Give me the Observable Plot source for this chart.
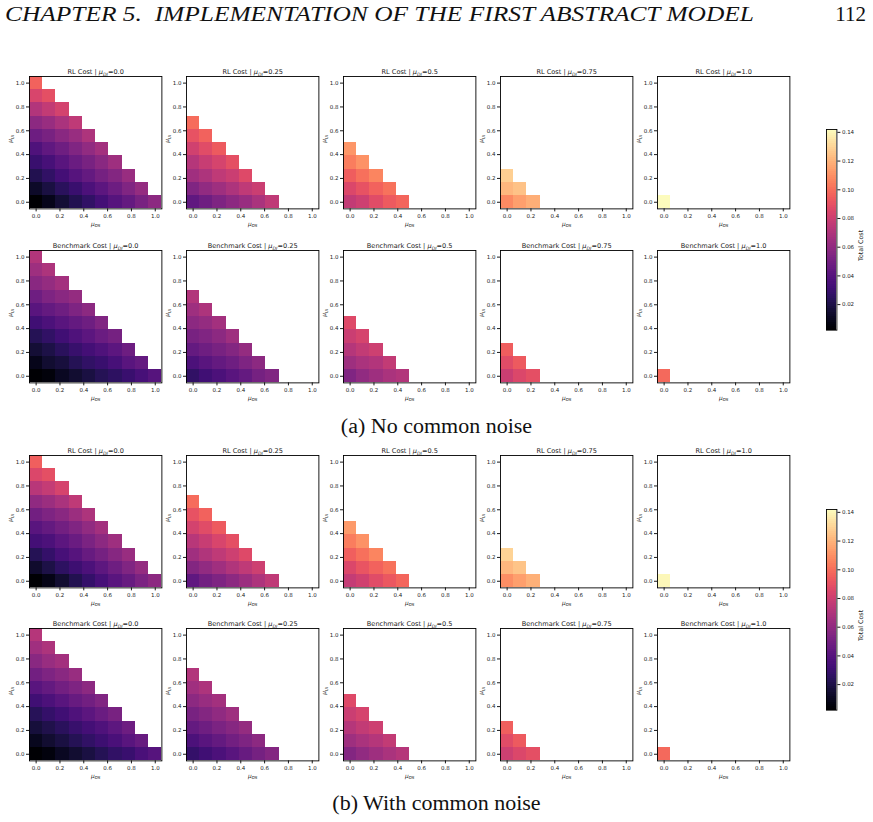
<!DOCTYPE html>
<html>
<head>
<meta charset="utf-8">
<script src="https://cdn.jsdelivr.net/npm/d3@7"></script>
<script src="https://cdn.jsdelivr.net/npm/@observablehq/plot@0.6"></script>
<style>
  body { margin: 0; background: #fff; }
  #page { position: relative; width: 873px; height: 822px; overflow: hidden; background: #fff; }
  .header { position: absolute; top: 2px; font-family: "Liberation Serif", serif; font-size: 21px; color: #111; white-space: nowrap; transform-origin: 0 0; }
  .caption { position: absolute; width: 873px; left: 0; text-align: center; font-family: "Liberation Serif", serif; font-size: 20px; color: #111; transform: scaleX(1.1); }
  .panel { position: absolute; }
</style>
</head>
<body>
<div id="page">
  <div class="header" style="left:5px;font-style:italic;transform:scaleX(1.21);">CHAPTER 5.&nbsp;&nbsp;IMPLEMENTATION OF THE FIRST ABSTRACT MODEL</div>
  <div class="header" style="right:7px;">112</div>
  <div class="caption" style="top:415px;">(a) No common noise</div>
  <div class="caption" style="top:792px;">(b) With common noise</div>
</div>
<script>
// Grid of μDS (columns) and μUI (rows) values at the cell centres
const gridPos = [0.0, 0.111, 0.222, 0.333, 0.444, 0.556, 0.667, 0.778, 0.889, 1.0];
const axisTicks = [0.0, 0.2, 0.4, 0.6, 0.8, 1.0];
const muDILabels = ["0.0", "0.25", "0.5", "0.75", "1.0"];
const colorbarTicks = [0.02, 0.04, 0.06, 0.08, 0.10, 0.12, 0.14];
const costRange = [0.0022, 0.142];

// Total cost per cell; each inner list is one μUI row (bottom row first), one entry per μDS column.
// (a) No common noise — RL policy
const rlA_00 = [
  [0.002, 0.009, 0.016, 0.022, 0.027, 0.033, 0.039, 0.044, 0.051, 0.058],
  [0.013, 0.019, 0.025, 0.030, 0.036, 0.041, 0.047, 0.054, 0.061],
  [0.022, 0.027, 0.033, 0.039, 0.044, 0.050, 0.055, 0.062],
  [0.030, 0.034, 0.040, 0.046, 0.051, 0.057, 0.064],
  [0.037, 0.043, 0.048, 0.054, 0.060, 0.066],
  [0.047, 0.051, 0.057, 0.062, 0.069],
  [0.058, 0.062, 0.068, 0.075],
  [0.071, 0.076, 0.082],
  [0.084, 0.089],
  [0.096]
];
const rlA_25 = [
  [0.043, 0.048, 0.053, 0.058, 0.062, 0.068, 0.075],
  [0.054, 0.060, 0.064, 0.069, 0.075, 0.079],
  [0.065, 0.069, 0.075, 0.079, 0.086],
  [0.072, 0.078, 0.083, 0.089],
  [0.081, 0.087, 0.093],
  [0.090, 0.096],
  [0.099]
];
const rlA_50 = [
  [0.076, 0.080, 0.087, 0.093, 0.097],
  [0.085, 0.090, 0.096, 0.101],
  [0.094, 0.100, 0.106],
  [0.104, 0.110],
  [0.111]
];
const rlA_75 = [
  [0.108, 0.114, 0.118],
  [0.121, 0.124],
  [0.128]
];
const rlA_100 = [
  [0.141]
];

// (a) No common noise — benchmark policy
const benchA_00 = [
  [0.002, 0.005, 0.011, 0.015, 0.019, 0.023, 0.026, 0.030, 0.034, 0.039],
  [0.009, 0.015, 0.018, 0.023, 0.027, 0.030, 0.034, 0.040, 0.044],
  [0.016, 0.020, 0.025, 0.029, 0.033, 0.037, 0.041, 0.047],
  [0.023, 0.027, 0.032, 0.037, 0.041, 0.046, 0.050],
  [0.032, 0.036, 0.040, 0.044, 0.048, 0.054],
  [0.040, 0.044, 0.048, 0.053, 0.058],
  [0.048, 0.053, 0.057, 0.061],
  [0.057, 0.061, 0.066],
  [0.064, 0.069],
  [0.071]
];
const benchA_25 = [
  [0.027, 0.032, 0.036, 0.040, 0.044, 0.050, 0.054],
  [0.036, 0.040, 0.044, 0.048, 0.053, 0.058],
  [0.044, 0.048, 0.051, 0.055, 0.061],
  [0.051, 0.054, 0.058, 0.064],
  [0.058, 0.061, 0.066],
  [0.064, 0.069],
  [0.071]
];
const benchA_50 = [
  [0.054, 0.060, 0.064, 0.068, 0.071],
  [0.064, 0.068, 0.071, 0.076],
  [0.072, 0.076, 0.080],
  [0.079, 0.083],
  [0.086]
];
const benchA_75 = [
  [0.079, 0.085, 0.089],
  [0.087, 0.093],
  [0.094]
];
const benchA_100 = [
  [0.098]
];

// (b) With common noise — RL policy
const rlB_00 = [
  [0.002, 0.008, 0.015, 0.022, 0.028, 0.034, 0.040, 0.045, 0.052, 0.058],
  [0.014, 0.020, 0.026, 0.031, 0.036, 0.042, 0.048, 0.054, 0.061],
  [0.023, 0.028, 0.034, 0.039, 0.045, 0.050, 0.056, 0.062],
  [0.033, 0.036, 0.041, 0.046, 0.052, 0.058, 0.064],
  [0.040, 0.044, 0.049, 0.054, 0.060, 0.066],
  [0.049, 0.053, 0.057, 0.063, 0.069],
  [0.059, 0.063, 0.068, 0.075],
  [0.073, 0.077, 0.083],
  [0.085, 0.089],
  [0.095]
];
const rlB_25 = [
  [0.043, 0.049, 0.053, 0.058, 0.063, 0.069, 0.075],
  [0.055, 0.060, 0.065, 0.070, 0.075, 0.080],
  [0.065, 0.070, 0.075, 0.080, 0.086],
  [0.073, 0.078, 0.084, 0.089],
  [0.082, 0.087, 0.093],
  [0.090, 0.096],
  [0.099]
];
const rlB_50 = [
  [0.077, 0.081, 0.087, 0.092, 0.097],
  [0.085, 0.091, 0.096, 0.101],
  [0.095, 0.100, 0.106],
  [0.104, 0.110],
  [0.112]
];
const rlB_75 = [
  [0.109, 0.114, 0.119],
  [0.121, 0.125],
  [0.129]
];
const rlB_100 = [
  [0.140]
];

// (b) With common noise — benchmark policy
const benchB_00 = [
  [0.002, 0.006, 0.011, 0.015, 0.019, 0.023, 0.027, 0.030, 0.035, 0.039],
  [0.010, 0.015, 0.019, 0.023, 0.027, 0.031, 0.035, 0.040, 0.045],
  [0.017, 0.021, 0.025, 0.029, 0.033, 0.037, 0.042, 0.047],
  [0.024, 0.028, 0.032, 0.037, 0.041, 0.046, 0.051],
  [0.032, 0.036, 0.040, 0.045, 0.049, 0.054],
  [0.040, 0.044, 0.049, 0.053, 0.058],
  [0.049, 0.053, 0.057, 0.062],
  [0.057, 0.062, 0.066],
  [0.065, 0.069],
  [0.072]
];
const benchB_25 = [
  [0.028, 0.032, 0.036, 0.040, 0.045, 0.050, 0.055],
  [0.036, 0.040, 0.044, 0.049, 0.053, 0.058],
  [0.044, 0.048, 0.052, 0.056, 0.061],
  [0.051, 0.055, 0.059, 0.064],
  [0.058, 0.062, 0.066],
  [0.065, 0.069],
  [0.071]
];
const benchB_50 = [
  [0.055, 0.060, 0.064, 0.068, 0.072],
  [0.064, 0.068, 0.072, 0.076],
  [0.072, 0.076, 0.080],
  [0.079, 0.083],
  [0.086]
];
const benchB_75 = [
  [0.080, 0.085, 0.089],
  [0.087, 0.093],
  [0.095]
];
const benchB_100 = [
  [0.098]
];

// Layout of the panel grid (frame positions in page pixels)
const frameLefts = [29.3, 186.2, 343.1, 500.0, 656.9];
const frameSize = 132.4;
const M = {left: 30, top: 14, right: 4, bottom: 24};
const cellHalf = 0.0556;

const panelRows = [
  {top: 75.7, name: "RL Cost", panels: [rlA_00, rlA_25, rlA_50, rlA_75, rlA_100]},
  {top: 249.6, name: "Benchmark Cost", panels: [benchA_00, benchA_25, benchA_50, benchA_75, benchA_100]},
  {top: 455.0, name: "RL Cost", panels: [rlB_00, rlB_25, rlB_50, rlB_75, rlB_100]},
  {top: 628.4, name: "Benchmark Cost", panels: [benchB_00, benchB_25, benchB_50, benchB_75, benchB_100]}
];
const colorbarTops = [129.3, 508.6];

const page = document.getElementById("page");

function toCells(rows) {
  const out = [];
  rows.forEach((row, j) => row.forEach((v, i) => out.push({x: gridPos[i], y: gridPos[j], v})));
  return out;
}

// Turn "μXY" into an italic μ with a subscript, as in mathtext
function subscriptify(svg, shift) {
  d3.select(svg).selectAll("text").each(function () {
    const t = this.textContent;
    const m = t.match(/^(.*)μ([A-Z]{2})(.*)$/);
    if (!m) return;
    const sel = d3.select(this);
    sel.text(null);
    if (m[1]) sel.append("tspan").text(m[1]);
    sel.append("tspan").attr("font-style", "italic").text("μ");
    sel.append("tspan").attr("font-style", "italic").attr("font-size", "70%").attr("dy", shift).text(m[2]);
    if (m[3]) sel.append("tspan").attr("dy", -shift).text(m[3]);
  });
}

const baseStyle = {fontFamily: "DejaVu Sans, sans-serif", fontSize: "5.5px", color: "#1a1a1a", background: "transparent", overflow: "visible"};

panelRows.forEach(row => {
  row.panels.forEach((rows, k) => {
    const cells = toCells(rows);
    const title = `${row.name} | μDI=${muDILabels[k]}`;
    const chart = Plot.plot({
      width: M.left + frameSize + M.right,
      height: M.top + frameSize + M.bottom,
      marginLeft: M.left, marginRight: M.right, marginTop: M.top, marginBottom: M.bottom,
      style: baseStyle,
      x: {domain: [-cellHalf, 1 + cellHalf], ticks: axisTicks, tickFormat: d3.format(".1f"), tickSize: 3, tickPadding: 2, label: null},
      y: {domain: [-cellHalf, 1 + cellHalf], ticks: axisTicks, tickFormat: d3.format(".1f"), tickSize: 3, tickPadding: 2, label: null},
      color: {type: "linear", scheme: "magma", domain: costRange},
      marks: [
        Plot.rect(cells, {x1: d => d.x - cellHalf, x2: d => d.x + cellHalf, y1: d => d.y - cellHalf, y2: d => d.y + cellHalf, fill: "v", shapeRendering: "crispEdges"}),
        Plot.frame({stroke: "#000", strokeWidth: 0.9}),
        Plot.text([title], {frameAnchor: "top", lineAnchor: "bottom", dy: -2, fontSize: 6.6}),
        Plot.text(["μDS"], {frameAnchor: "bottom", lineAnchor: "top", dy: 12.5, fontSize: 5.8}),
        Plot.text(["μUI"], {frameAnchor: "left", rotate: -90, dx: -19, fontSize: 5.8})
      ]
    });
    subscriptify(chart, 1.6);
    chart.classList.add("panel");
    chart.style.left = (frameLefts[k] - M.left) + "px";
    chart.style.top = (row.top - M.top) + "px";
    page.appendChild(chart);
  });
});

// Vertical colour bar for each figure
const rampSteps = d3.range(0, 100);
const rampCells = rampSteps.map(s => {
  const a = costRange[0] + (costRange[1] - costRange[0]) * s / rampSteps.length;
  const b = costRange[0] + (costRange[1] - costRange[0]) * (s + 1) / rampSteps.length;
  return {a, b};
});
colorbarTops.forEach(top => {
  const barW = 10.4, barH = 200.7;
  const cb = Plot.plot({
    width: barW + 42, height: barH + 10,
    marginLeft: 0, marginRight: 42, marginTop: 5, marginBottom: 5,
    style: baseStyle,
    x: {domain: [0, 1], axis: null},
    y: {domain: costRange, axis: "right", ticks: colorbarTicks, tickFormat: d3.format(".2f"), tickSize: 3, tickPadding: 2, label: null},
    color: {type: "linear", scheme: "magma", domain: costRange},
    marks: [
      Plot.rect(rampCells, {x1: 0, x2: 1, y1: "a", y2: "b", fill: d => (d.a + d.b) / 2, shapeRendering: "crispEdges"}),
      Plot.frame({stroke: "#000", strokeWidth: 0.9}),
      Plot.text(["Total Cost"], {frameAnchor: "right", rotate: -90, dx: 24, fontSize: 6.4})
    ]
  });
  cb.classList.add("panel");
  cb.style.left = "826px";
  cb.style.top = (top - 5) + "px";
  page.appendChild(cb);
});
</script>
</body>
</html>
